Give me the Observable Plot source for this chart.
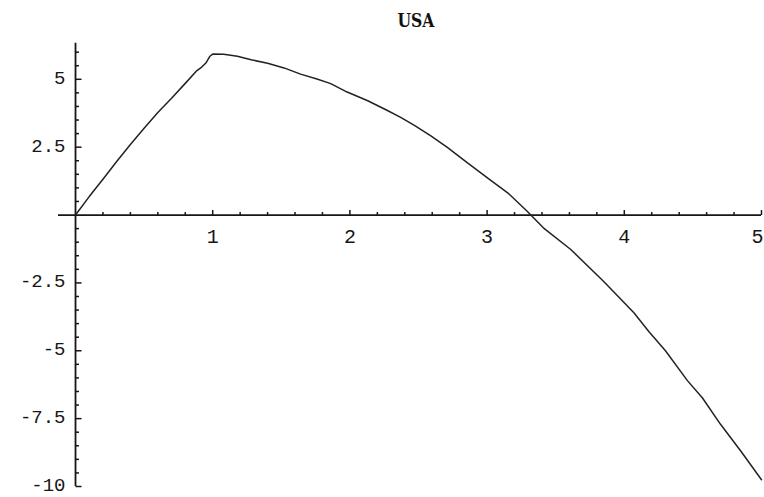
<!DOCTYPE html>
<html>
<head>
<meta charset="utf-8">
<script src="https://cdn.jsdelivr.net/npm/d3@7"></script>
<script src="https://cdn.jsdelivr.net/npm/@observablehq/plot@0.6"></script>
<style>
  html, body { margin: 0; padding: 0; background: #fff; }
  #wrap { position: relative; width: 764px; height: 497px; overflow: hidden; }
  #title { position: relative; width: 764px; height: 30px; }
  #title span {
    position: absolute; left: 416px; top: 9px; transform: translateX(-50%) scaleX(0.82);
    font-family: "DejaVu Serif", serif; font-weight: bold; font-size: 19px;
    line-height: 22px; color: #111;
  }
  #chart svg { display: block; }
</style>
</head>
<body>
<div id="wrap">
  <div id="title"><span>USA</span></div>
  <div id="chart"></div>
</div>
<script>
// ---- data ----
const title = "USA";
const xValues = [0, 0.1, 0.2, 0.3, 0.4, 0.5, 0.6, 0.7, 0.8, 0.88, 0.92, 0.95, 0.98, 1.0,
  1.08, 1.18, 1.28, 1.40, 1.52, 1.64, 1.76, 1.86, 1.98, 2.13, 2.27, 2.37, 2.47, 2.59,
  2.71, 2.85, 3.0, 3.15, 3.29, 3.41, 3.61, 3.85, 4.07, 4.18, 4.3, 4.46, 4.57, 4.70, 4.85, 5.0];
const yValues = [0, 0.68, 1.32, 1.97, 2.6, 3.2, 3.78, 4.3, 4.85, 5.3, 5.45, 5.6, 5.85, 5.93,
  5.92, 5.85, 5.72, 5.59, 5.42, 5.19, 5.01, 4.84, 4.53, 4.21, 3.86, 3.6, 3.3, 2.92,
  2.49, 1.95, 1.38, 0.82, 0.15, -0.47, -1.27, -2.45, -3.6, -4.3, -5.0, -6.1, -6.74, -7.7, -8.7, -9.75];

const xDomain = [-0.124, 5];
const yDomain = [-10, 6.33];

const xMajorTicks = [1, 2, 3, 4, 5];
const xMajorLabels = ["1", "2", "3", "4", "5"];
const xMinorTicks = [0.2, 0.4, 0.6, 0.8, 1.2, 1.4, 1.6, 1.8, 2.2, 2.4, 2.6, 2.8,
  3.2, 3.4, 3.6, 3.8, 4.2, 4.4, 4.6, 4.8];
const yMajorTicks = [5, 2.5, -2.5, -5, -7.5, -10];
const yMajorLabels = ["5", "2.5", "-2.5", "-5", "-7.5", "-10"];
const yMinorTicks = [6, 5.5, 4.5, 4, 3.5, 3, 2, 1.5, 1, 0.5, -0.5, -1, -1.5, -2,
  -3, -3.5, -4, -4.5, -5.5, -6, -6.5, -7, -8, -8.5, -9, -9.5];

// ---- build tables ----
const curve = xValues.map((x, i) => ({x, y: yValues[i]}));
const xLab = xMajorTicks.map((v, i) => ({v, label: xMajorLabels[i]}));
const xLabInner = xLab.slice(0, -1);
const xLabLast = xLab.slice(-1);
const yLab = yMajorTicks.map((v, i) => ({v, label: yMajorLabels[i]}));

// tick glyphs (styles: pixel lengths)
const tickUp = len => ({draw(ctx) { ctx.moveTo(0, 0); ctx.lineTo(0, -len); }});
const tickRight = len => ({draw(ctx) { ctx.moveTo(0, 0); ctx.lineTo(len, 0); }});

const labelFont = "Liberation Mono, DejaVu Sans Mono, monospace";
const ink = "#161616";

const plot = Plot.plot({
  width: 764,
  height: 467,
  marginTop: 12.7,
  marginBottom: 11,
  marginLeft: 58,
  marginRight: 3,
  x: {domain: xDomain, axis: null},
  y: {domain: yDomain, axis: null},
  style: {background: "#fff", overflow: "visible"},
  marks: [
    Plot.ruleY([0], {stroke: ink, strokeWidth: 1.8}),
    Plot.ruleX([0], {stroke: ink, strokeWidth: 1.8}),
    Plot.dot(xMajorTicks, {x: d => d, y: d => 0, symbol: tickUp(5), fill: "none", stroke: ink, strokeWidth: 1.5}),
    Plot.dot(xMinorTicks, {x: d => d, y: d => 0, symbol: tickUp(3), fill: "none", stroke: ink, strokeWidth: 1.5}),
    Plot.dot(yMajorTicks, {x: d => 0, y: d => d, symbol: tickRight(6), fill: "none", stroke: ink, strokeWidth: 1.5}),
    Plot.dot(yMinorTicks, {x: d => 0, y: d => d, symbol: tickRight(3.5), fill: "none", stroke: ink, strokeWidth: 1.5}),
    Plot.text(xLabInner, {x: "v", y: d => 0, text: "label", dy: 22, fontSize: 20, fontFamily: labelFont, fill: ink}),
    Plot.text(xLabLast, {x: "v", y: d => 0, text: "label", dy: 22, dx: 2, textAnchor: "end", fontSize: 20, fontFamily: labelFont, fill: ink}),
    Plot.text(yLab, {x: d => 0, y: "v", text: "label", dx: -10, dy: -1.5, textAnchor: "end", fontSize: 19, fontFamily: labelFont, fill: ink}),
    Plot.line(curve, {x: "x", y: "y", stroke: "#222", strokeWidth: 1.5, curve: "linear"})
  ]
});
document.getElementById("chart").appendChild(plot);
</script>
</body>
</html>
